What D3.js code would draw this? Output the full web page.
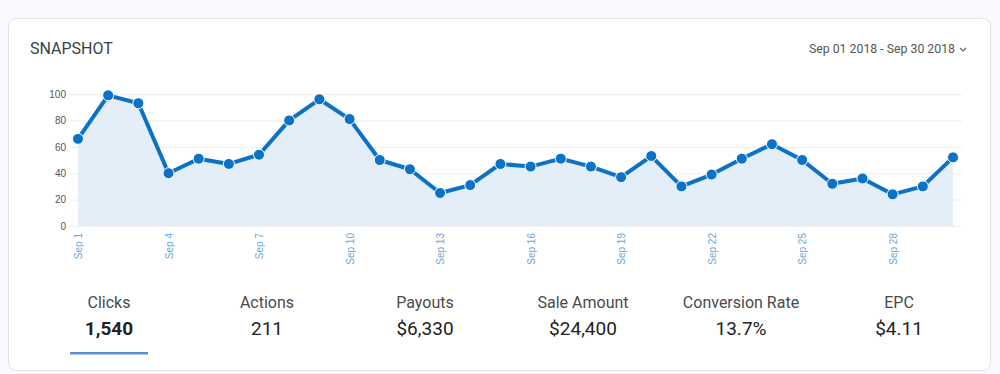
<!DOCTYPE html>
<meta charset="utf-8">
<style>
body{
  margin:0;
  background:#f7f9fc;
  font-family:Roboto, "Open Sans", sans-serif;
}
.grid line{
  stroke:#eeeeee;
}
.grid .domain{
  display:none;
}
.yaxis text{
  fill:#555;
  font-size:10px;
}
.xaxis text{
  fill:#6aa6dc;
  font-size:10px;
}
.xaxis .domain, .xaxis line, .yaxis .domain, .yaxis line{
  display:none;
}
</style>
<body>
<script src="https://cdn.jsdelivr.net/npm/d3@7"></script>
<script>
// daily clicks, Sep 1 - Sep 30
var days = d3.range(1, 31);
var clicks = [66,99,93,40,51,47,54,80,96,81,
              50,43,25,31,47,45,51,45,37,53,
              30,39,51,62,50,32,36,24,30,52];
var yTicks = [0,20,40,60,80,100];

var statLabels = ["Clicks","Actions","Payouts","Sale Amount","Conversion Rate","EPC"];
var statValues = ["1,540","211","$6,330","$24,400","13.7%","$4.11"];

var W = 1000, H = 374;
var svg = d3.select("body").append("svg").attr("width", W).attr("height", H)
  .style("display","block");

// card
svg.append("rect").attr("x",8.5).attr("y",18.5).attr("width",982).attr("height",352)
  .attr("rx",8).attr("fill","#fff").attr("stroke","#dfe3e8");

svg.append("text").attr("x",30).attr("y",54).text("SNAPSHOT")
  .style("font-size","16px").style("fill","#3a3f45");

svg.append("text").attr("x",955).attr("y",53).attr("text-anchor","end")
  .text("Sep 01 2018 - Sep 30 2018")
  .style("font-size","12.3px").style("fill","#555");
// little chevron
svg.append("path").attr("d","M960,48 l3,3 l3,-3").attr("fill","none")
  .attr("stroke","#666").attr("stroke-width",1.2);

var x = d3.scaleLinear().domain([1,30]).range([78,953]);
var y = d3.scaleLinear().domain([0,100]).range([226,94]);

// gridlines
svg.append("g").attr("class","grid").attr("transform","translate(70,0)")
  .call(d3.axisLeft(y).tickValues(yTicks).tickSize(-892).tickFormat(""));

svg.append("g").attr("class","yaxis").attr("transform","translate(70,0)")
  .call(d3.axisLeft(y).tickValues(yTicks).tickSize(0).tickPadding(4));

var xa = svg.append("g").attr("class","xaxis").attr("transform","translate(0,233)")
  .call(d3.axisBottom(x).tickValues(days.filter(d => (d-1)%3==0))
    .tickSize(0).tickFormat(d => "Sep " + d));
xa.selectAll("text").attr("transform","rotate(-90)")
  .attr("text-anchor","end").attr("x",0).attr("y",0).attr("dy","0.35em").attr("dx",0);

var pts = days.map((d,i) => [d, clicks[i]]);

svg.append("path").datum(pts)
  .attr("fill","#e3eef9")
  .attr("d", d3.area().x(d => x(d[0])).y0(y(0)).y1(d => y(d[1])));

svg.append("path").datum(pts)
  .attr("fill","none").attr("stroke","#0b72c6").attr("stroke-width",4)
  .attr("stroke-linejoin","round")
  .attr("d", d3.line().x(d => x(d[0])).y(d => y(d[1])));

svg.selectAll(".dot").data(pts).enter().append("circle")
  .attr("class","dot")
  .attr("cx", d => x(d[0])).attr("cy", d => y(d[1])).attr("r",5.5)
  .attr("fill","#0b72c6").attr("stroke","#fff").attr("stroke-width",1);

// summary stats
var sx = d3.scaleBand().domain(statLabels).range([30,978]);
var st = svg.selectAll(".stat").data(statLabels).enter().append("g")
  .attr("class","stat")
  .attr("transform", d => "translate(" + (sx(d) + sx.bandwidth()/2) + ",0)");
st.append("text").attr("y",308).attr("text-anchor","middle").text(d => d)
  .style("font-size","16px").style("fill","#4a4a4a");
st.append("text").attr("y",335).attr("text-anchor","middle")
  .text((d,i) => statValues[i])
  .style("font-size","19px").style("fill","#222")
  .style("font-weight",(d,i) => i==0 ? "bold" : "normal");

svg.append("rect").attr("x",sx("Clicks") + sx.bandwidth()/2 - 39).attr("y",352)
  .attr("width",78).attr("height",2.5).attr("fill","#5b8fd0");
</script>
</body>
